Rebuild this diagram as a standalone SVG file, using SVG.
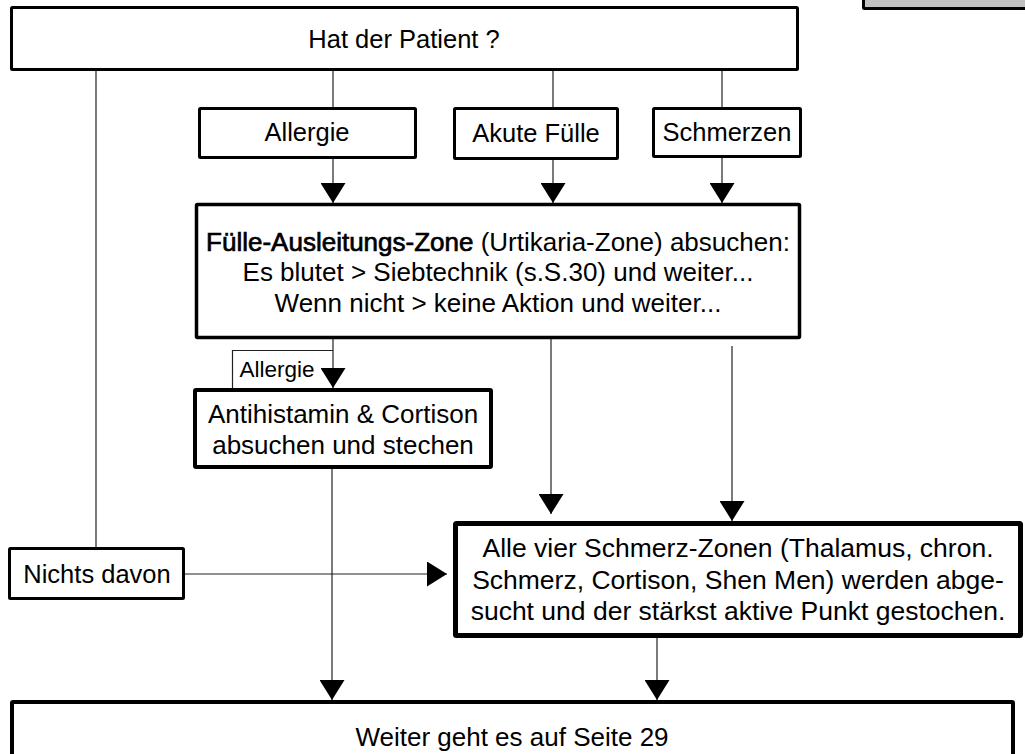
<svg xmlns="http://www.w3.org/2000/svg" width="1025" height="754" viewBox="0 0 1025 754">
<style>
  .box { fill: #fff; stroke: #000; stroke-linejoin: round; }
  .t { font-family: "Liberation Sans", Arial, sans-serif; fill: #000; text-anchor: middle; }
  .m { font-size: 25.5px; }
  .l { font-size: 26px; }
  .em { stroke: #000; stroke-width: 0.7px; }
  .c { fill: none; stroke: #222; stroke-width: 1.2; }
</style>
<defs>
  <marker id="arr" viewBox="0 0 20 25" refX="20" refY="12.5" markerWidth="20" markerHeight="25" markerUnits="userSpaceOnUse" orient="auto">
    <path d="M0,0 L20,12.5 L0,25 Z" fill="#000"/>
  </marker>
</defs>
<rect width="1025" height="754" fill="#fff"/>

<g id="corner-box">
  <rect x="863.5" y="-6" width="170" height="14.5" rx="1" fill="#c0c0c0" stroke="#000" stroke-width="3"/>
</g>

<g id="connectors">
  <line class="c" x1="96" y1="70" x2="96" y2="547"/>
  <line class="c" x1="333" y1="70" x2="333" y2="107"/>
  <line class="c" x1="553" y1="70" x2="553" y2="107"/>
  <line class="c" x1="722" y1="70" x2="722" y2="107"/>
  <line class="c" x1="333" y1="158" x2="333" y2="203" marker-end="url(#arr)"/>
  <line class="c" x1="553" y1="159" x2="553" y2="203" marker-end="url(#arr)"/>
  <line class="c" x1="722" y1="157" x2="722" y2="203" marker-end="url(#arr)"/>
  <line class="c" x1="333" y1="338" x2="333" y2="388" marker-end="url(#arr)"/>
  <line class="c" x1="551" y1="338" x2="551" y2="514" marker-end="url(#arr)"/>
  <line class="c" x1="732" y1="346" x2="732" y2="521" marker-end="url(#arr)"/>
  <line class="c" x1="332" y1="468" x2="332" y2="700" marker-end="url(#arr)"/>
  <line class="c" x1="185" y1="574" x2="447" y2="574" marker-end="url(#arr)"/>
  <line class="c" x1="657" y1="638" x2="657" y2="700" marker-end="url(#arr)"/>
</g>

<g id="allergie-label">
  <polyline class="c" points="232.5,389 232.5,350.5 333,350.5"/>
  <text class="t" x="277" y="377" style="font-size:22.5px">Allergie</text>
</g>

<g id="n-start">
  <rect class="box" x="11.5" y="7.5" width="786" height="62" rx="1" stroke-width="3"/>
  <text class="t m" x="404" y="48">Hat der Patient ?</text>
</g>

<g id="n-allergie">
  <rect class="box" x="199.5" y="108.5" width="216" height="49" rx="1" stroke-width="3"/>
  <text class="t m" x="307" y="141">Allergie</text>
</g>

<g id="n-akute">
  <rect class="box" x="454.5" y="108.5" width="163" height="50" rx="1" stroke-width="3"/>
  <text class="t m" x="536" y="142">Akute Fülle</text>
</g>

<g id="n-schmerzen">
  <rect class="box" x="653.5" y="108.5" width="147" height="48" rx="1" stroke-width="3"/>
  <text class="t m" x="727" y="141">Schmerzen</text>
</g>

<g id="n-fuelle">
  <rect class="box" x="196.5" y="204.5" width="603" height="133" rx="1" stroke-width="3.5"/>
  <text class="t l" x="498" y="251"><tspan class="em">Fülle-Ausleitungs-Zone</tspan> (Urtikaria-Zone) absuchen:</text>
  <text class="t l" x="498" y="281">Es blutet &gt; Siebtechnik (s.S.30) und weiter...</text>
  <text class="t l" x="498" y="312">Wenn nicht &gt; keine Aktion und weiter...</text>
</g>

<g id="n-antihistamin">
  <rect class="box" x="195" y="390" width="296" height="77" rx="1" stroke-width="4"/>
  <text class="t" x="343" y="423" style="font-size:26px">Antihistamin &amp; Cortison</text>
  <text class="t" x="343" y="454" style="font-size:26px">absuchen und stechen</text>
</g>

<g id="n-nichts">
  <rect class="box" x="9.5" y="548.5" width="174" height="50" rx="1" stroke-width="3"/>
  <text class="t m" x="97" y="583">Nichts davon</text>
</g>

<g id="n-schmerzzonen">
  <rect class="box" x="455.5" y="523.5" width="565" height="112" rx="1" stroke-width="5"/>
  <text class="t" x="738" y="557" style="font-size:26.5px">Alle vier Schmerz-Zonen (Thalamus, chron.</text>
  <text class="t" x="738" y="589" style="font-size:26.5px">Schmerz, Cortison, Shen Men) werden abge-</text>
  <text class="t" x="738" y="620" style="font-size:26.5px">sucht und der stärkst aktive Punkt gestochen.</text>
</g>

<g id="n-weiter">
  <rect class="box" x="12" y="702" width="1001" height="62" rx="1" stroke-width="4"/>
  <text class="t" x="512" y="746" style="font-size:26px">Weiter geht es auf Seite 29</text>
</g>
</svg>
